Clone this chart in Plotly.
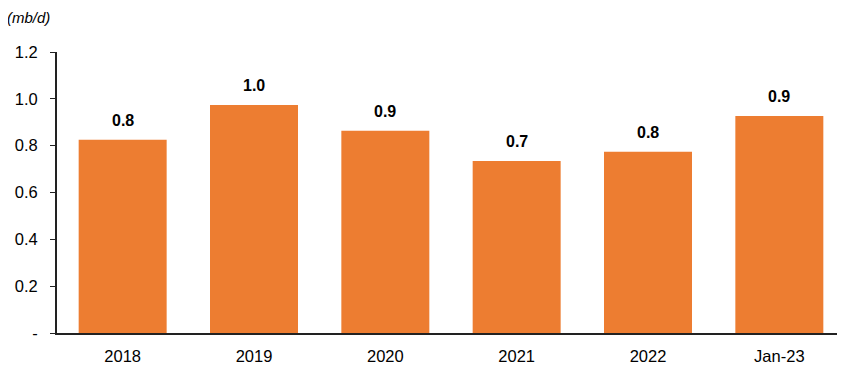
import plotly.graph_objects as go

categories = ["2018", "2019", "2020", "2021", "2022", "Jan-23"]
values = [0.825, 0.974, 0.864, 0.735, 0.774, 0.927]
tick_vals = [0, 0.2, 0.4, 0.6, 0.8, 1.0, 1.2]
tick_text = ["-", "0.2", "0.4", "0.6", "0.8", "1.0", "1.2"]

FONT = "Liberation Sans, Arial"

fig = go.Figure()
fig.add_trace(go.Bar(x=categories, y=values, marker=dict(color="#ED7D31", line=dict(width=0)),
                     hoverinfo="skip"))

for i, v in enumerate(values):
    fig.add_annotation(x=i, y=v, text=f"<b>{v:.1f}</b>", showarrow=False,
                       yanchor="bottom", yshift=9,
                       font=dict(family=FONT, size=16, color="#000"))

fig.add_annotation(x=0, y=1, xref="paper", yref="paper", xanchor="left", yanchor="bottom",
                   xshift=-52, yshift=24, text="<i>(mb/d)</i>", showarrow=False,
                   font=dict(family=FONT, size=15, color="#000"))

fig.update_layout(
    width=837, height=360,
    margin=dict(l=49, r=0, t=44, b=35),
    paper_bgcolor="white", plot_bgcolor="white",
    bargap=0.33,
    showlegend=False,
    font=dict(family=FONT, size=16, color="#000"),
)
fig.update_xaxes(type="category", categoryorder="array", categoryarray=categories,
                 range=[-0.5, len(categories) - 0.5],
                 showline=True, linecolor="#222", linewidth=1.5,
                 ticks="outside", ticklen=7, tickcolor="rgba(0,0,0,0)",
                 showgrid=False, tickfont=dict(size=16.5))
fig.update_yaxes(range=[0, 1.2], tickvals=tick_vals, ticktext=[t + "  " for t in tick_text],
                 showgrid=False,
                 showline=True, linecolor="#222", linewidth=1.5, ticks="outside", ticklen=5,
                 tickcolor="#222", zeroline=False, tickfont=dict(size=16.5))

fig.write_html("out.html")
